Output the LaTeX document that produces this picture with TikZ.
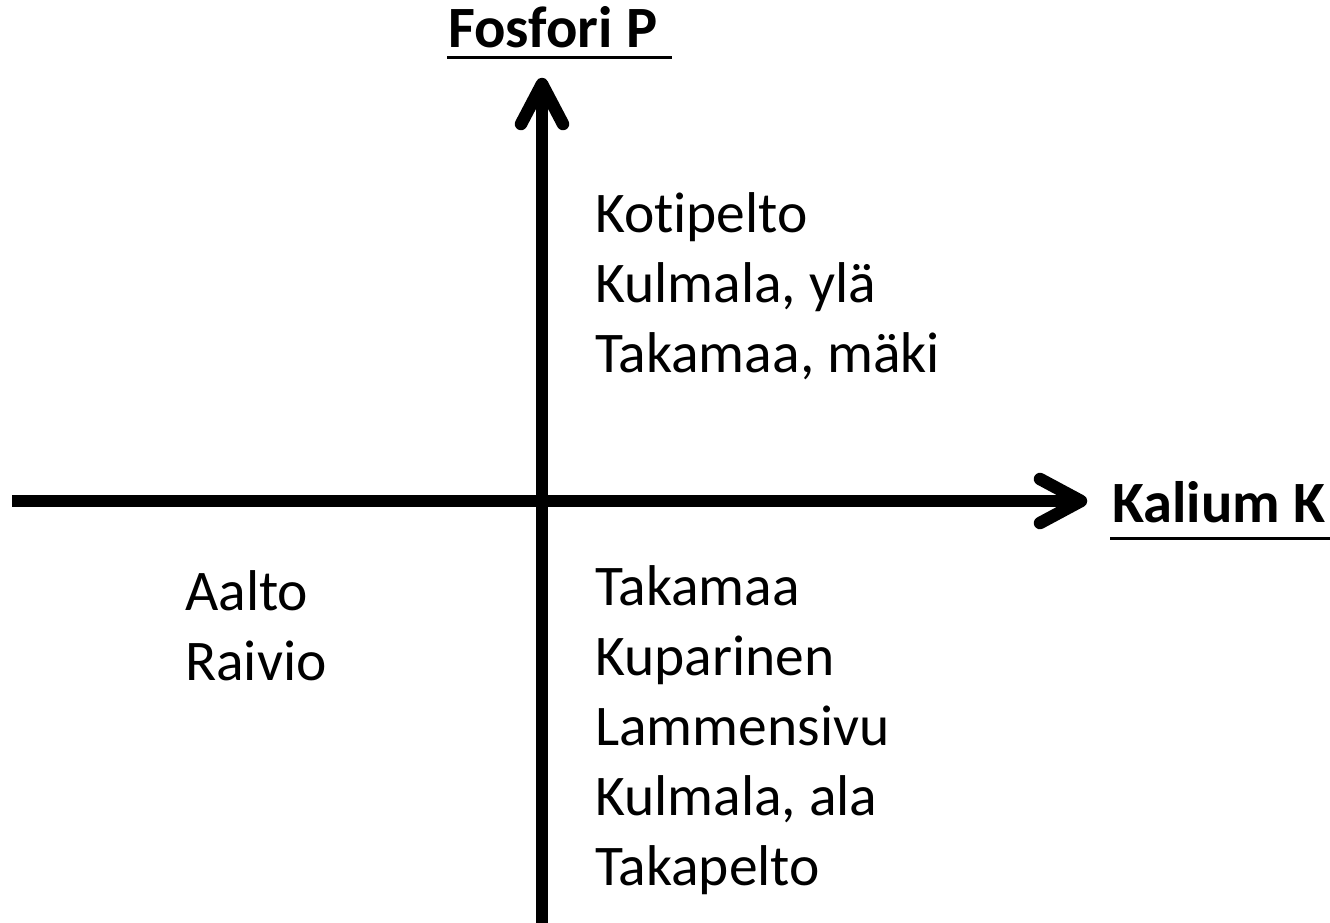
\documentclass[tikz,border=0pt]{standalone}
\usepackage{fontspec}
\setmainfont{Carlito}[Ligatures=NoCommon]
\begin{document}
\begin{tikzpicture}[x=1pt,y=-1pt,
  axis/.style={line width=12.5pt,line cap=butt},
  head/.style={line width=12.5pt,line cap=round,line join=round},
  lbl/.style={anchor=base west,inner sep=0pt,font=\fontsize{57.5}{70}\selectfont},
  axlbl/.style={anchor=base west,inner sep=0pt,font=\fontsize{58.5}{70}\selectfont\bfseries},
  uline/.style={line width=3pt}]
\useasboundingbox (0,0) rectangle (1330,922);
% axes
\coordinate (xs) at (12,501);
\coordinate (xt) at (1081,501);
\coordinate (ys) at (542,930);
\coordinate (yt) at (542,84);
\draw[axis] (xs) -- (xt);
\draw[axis] (ys) -- (yt);
\draw[head] ([shift={(-41,-22)}]xt) -- (xt) -- ([shift={(-41,22)}]xt);
\draw[head] ([shift={(-21,40)}]yt) -- (yt) -- ([shift={(21,40)}]yt);
% axis labels
\node[axlbl] (fos) at (448,47) {Fosfori P~};
\coordinate (fosu1) at (447,57);
\coordinate (fosu2) at (672,57);
\draw[uline] (fosu1) -- (fosu2);
\node[axlbl] (kal) at (1112,522) {Kalium K};
\coordinate (kalu1) at (1110,538);
\coordinate (kalu2) at (1330,538);
\draw[uline] (kalu1) -- (kalu2);
% quadrant texts
\node[lbl] (q1a) at (595,232) {Kotipelto};
\node[lbl] (q1b) at (595,302) {Kulmala, ylä};
\node[lbl] (q1c) at (595,372) {Takamaa, mäki};
\node[lbl] (q3a) at (185,610) {Aalto};
\node[lbl] (q3b) at (185,680) {Raivio};
\node[lbl] (q4a) at (595,605) {Takamaa};
\node[lbl] (q4b) at (595,675) {Kuparinen};
\node[lbl] (q4c) at (595,745) {Lammensivu};
\node[lbl] (q4d) at (595,815) {Kulmala, ala};
\node[lbl] (q4e) at (595,885) {Takapelto};
\end{tikzpicture}
\end{document}
